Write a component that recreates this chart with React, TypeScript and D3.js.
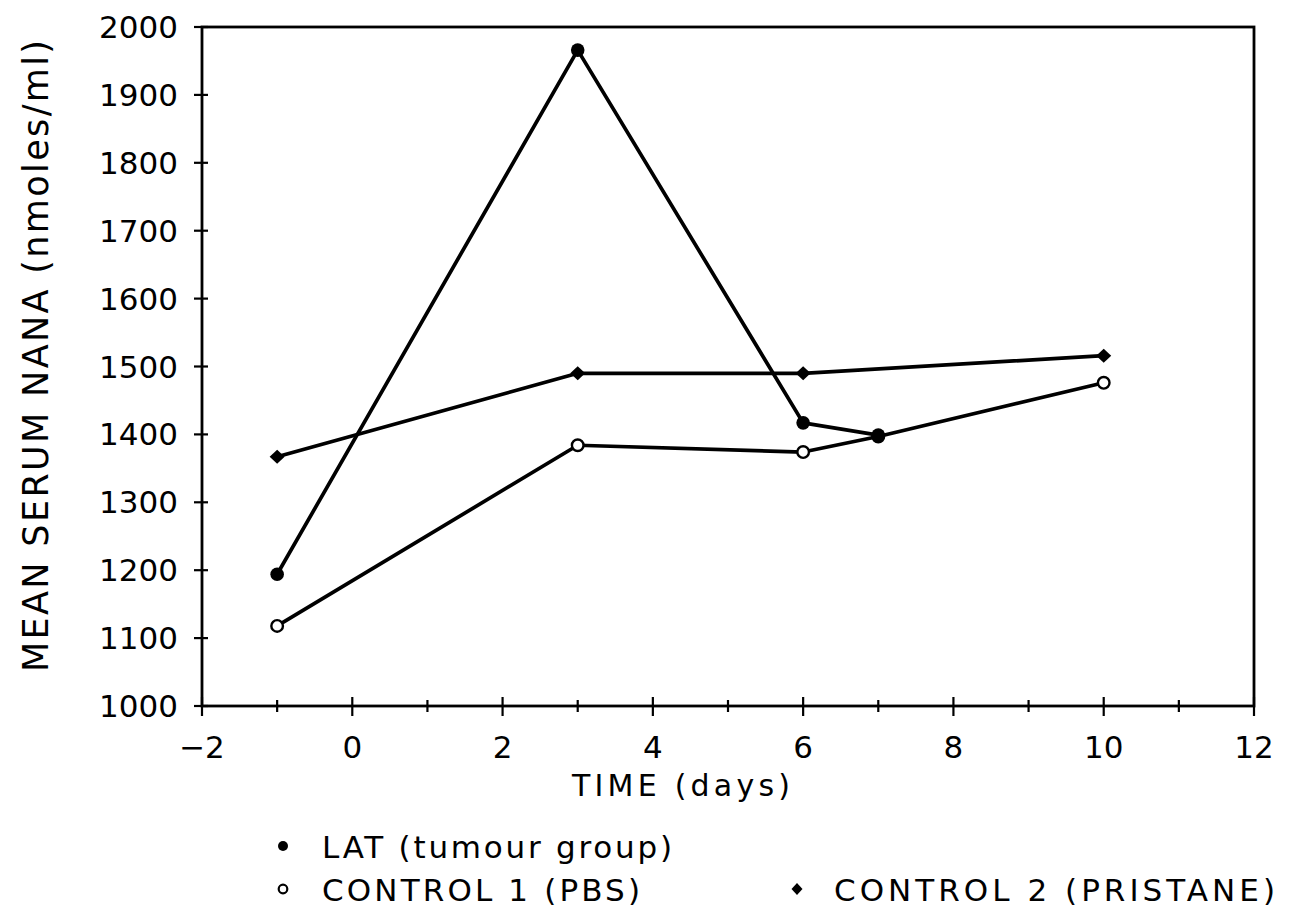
import React from "react";
import * as d3 from "d3";

const latDays = [-1, 3, 6, 7];
const latValues = [1194, 1966, 1417, 1399];
const ctrl1Days = [-1, 3, 6, 7, 10];
const ctrl1Values = [1118, 1384, 1374, 1397, 1476];
const ctrl2Days = [-1, 3, 6, 10];
const ctrl2Values = [1367, 1490, 1490, 1516];

const yTicks = [1000, 1100, 1200, 1300, 1400, 1500, 1600, 1700, 1800, 1900, 2000];
const xMajorTicks = [-2, 0, 2, 4, 6, 8, 10, 12];
const xMinorTicks = [-1, 1, 3, 5, 7, 9, 11];

const xTitle = "TIME (days)";
const yTitle = "MEAN SERUM NANA (nmoles/ml)";
const legendLat = "LAT (tumour group)";
const legendC1 = "CONTROL 1 (PBS)";
const legendC2 = "CONTROL 2 (PRISTANE)";

const W = 1293;
const H = 914;
const L = 202, R = 1254, T = 27, B = 706;
const FONT = "'DejaVu Sans', sans-serif";

export default function App() {
  const x = d3.scaleLinear().domain([-2, 12]).range([L, R]);
  const y = d3.scaleLinear().domain([1000, 2000]).range([B, T]);
  const line = d3.line<[number, number]>().x(d => x(d[0])).y(d => y(d[1]));
  const zip = (a: number[], b: number[]) => a.map((v, i) => [v, b[i]] as [number, number]);
  const lat = zip(latDays, latValues);
  const c1 = zip(ctrl1Days, ctrl1Values);
  const c2 = zip(ctrl2Days, ctrl2Values);
  const diamond = (cx: number, cy: number, rx: number, ry: number) =>
    `M${cx - rx},${cy}L${cx},${cy - ry}L${cx + rx},${cy}L${cx},${cy + ry}Z`;

  return (
    <svg width={W} height={H} style={{ position: "absolute", left: 0, top: 0, background: "#fff" }}>
      <rect x={0} y={0} width={W} height={H} fill="#fff" />
      {/* frame */}
      <rect x={L} y={T} width={R - L} height={B - T} fill="none" stroke="#000" strokeWidth={2.8} />
      {/* y ticks */}
      {yTicks.map(v => (
        <g key={"y" + v}>
          <line x1={L - 8} x2={L + 6} y1={y(v)} y2={y(v)} stroke="#000" strokeWidth={2.2} />
          <text x={178} y={y(v) + 11} textAnchor="end" fontFamily={FONT} fontSize={31} fill="#000">{v}</text>
        </g>
      ))}
      {/* x ticks */}
      {xMajorTicks.map(v => (
        <g key={"xM" + v}>
          <line x1={x(v)} x2={x(v)} y1={B - 9} y2={B + 10} stroke="#000" strokeWidth={2.2} />
          <text x={x(v)} y={758} textAnchor="middle" fontFamily={FONT} fontSize={31} fill="#000">
            {v < 0 ? "\u2212" + Math.abs(v) : String(v)}
          </text>
        </g>
      ))}
      {xMinorTicks.map(v => (
        <line key={"xm" + v} x1={x(v)} x2={x(v)} y1={B - 6} y2={B + 6} stroke="#000" strokeWidth={2.2} />
      ))}
      {/* axis titles */}
      <text x={572} y={796} fontFamily={FONT} fontSize={30} fill="#000" textLength={218} lengthAdjust="spacing">{xTitle}</text>
      <text transform={`translate(48,${356}) rotate(-90)`} textAnchor="middle" fontFamily={FONT} fontSize={35} fill="#000" textLength={632} lengthAdjust="spacing">{yTitle}</text>
      {/* lines */}
      <path d={line(c2) || ""} fill="none" stroke="#000" strokeWidth={3.7} strokeLinejoin="round" />
      <path d={line(c1) || ""} fill="none" stroke="#000" strokeWidth={3.7} strokeLinejoin="round" />
      <path d={line(lat) || ""} fill="none" stroke="#000" strokeWidth={3.7} strokeLinejoin="round" />
      {/* markers */}
      {c2.map((d, i) => (
        <path key={"c2" + i} d={diamond(x(d[0]), y(d[1]), 7.5, 7)} fill="#000" />
      ))}
      {c1.map((d, i) => (
        <circle key={"c1" + i} cx={x(d[0])} cy={y(d[1])} r={5.8} fill="#fff" stroke="#000" strokeWidth={2.4} />
      ))}
      {lat.map((d, i) => (
        <circle key={"l" + i} cx={x(d[0])} cy={y(d[1])} r={6.8} fill="#000" />
      ))}
      {/* legend */}
      <circle cx={283} cy={846} r={5} fill="#000" />
      <text x={322} y={858} fontFamily={FONT} fontSize={31} fill="#000" textLength={350} lengthAdjust="spacing">{legendLat}</text>
      <circle cx={283} cy={889} r={4.3} fill="#fff" stroke="#000" strokeWidth={2.2} />
      <text x={322} y={901} fontFamily={FONT} fontSize={31} fill="#000" textLength={318} lengthAdjust="spacing">{legendC1}</text>
      <path d={diamond(797, 889, 5.5, 6)} fill="#000" />
      <text x={834} y={901} fontFamily={FONT} fontSize={31} fill="#000" textLength={441} lengthAdjust="spacing">{legendC2}</text>
    </svg>
  );
}
